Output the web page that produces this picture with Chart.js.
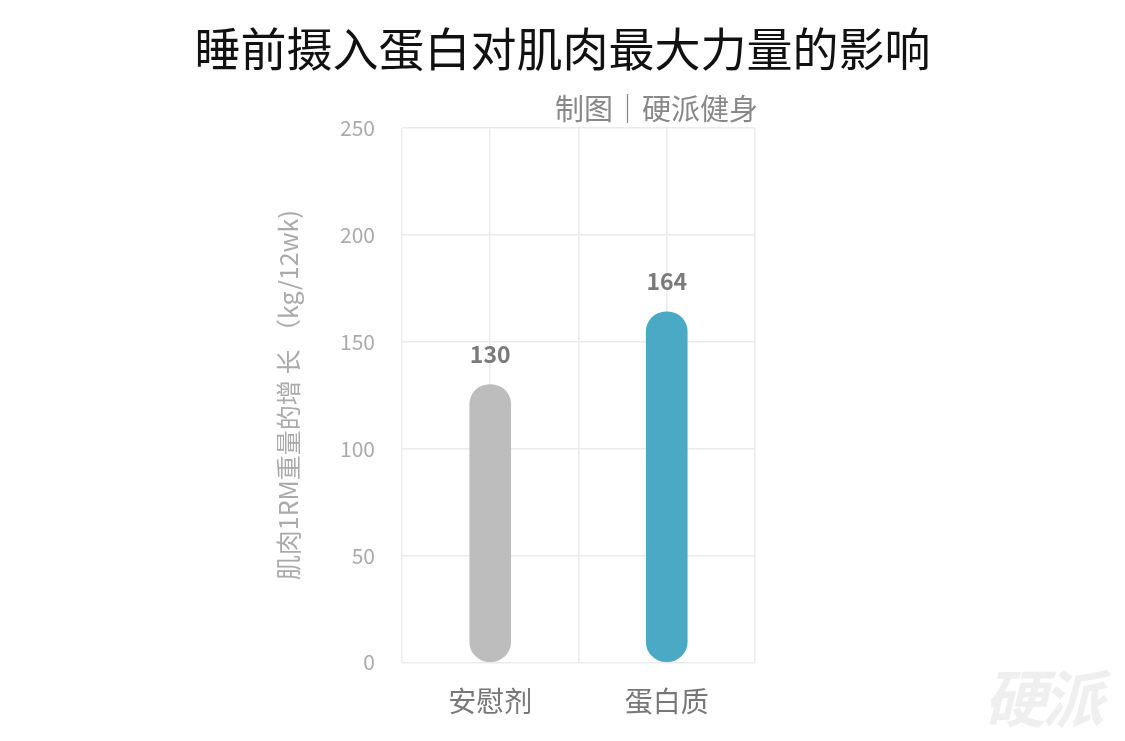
<!DOCTYPE html>
<html>
<head>
<meta charset="utf-8">
<script src="https://cdn.jsdelivr.net/npm/chart.js@4"></script>
<style>
  body { margin: 0; background: #fff; font-family: "Noto Sans CJK SC", "Noto Sans", sans-serif; }
  #wrap { position: relative; width: 1125px; height: 741px; }
  #title { position: absolute; left: 0; width: 1125px; top: 13px; text-align: center; font-size: 46px; color: #111; }
  #credit { position: absolute; right: 367px; top: 86px; font-size: 29px; color: #888; }
  #mark { position: absolute; left: 984px; top: 650px; font-size: 62px; font-weight: bold; font-style: italic; color: #efefef; letter-spacing: -4px; }
  canvas { position: absolute; left: 0; top: 0; }
</style>
</head>
<body>
<div id="wrap">
  <canvas id="c" width="1125" height="741"></canvas>
  <div id="title">睡前摄入蛋白对肌肉最大力量的影响</div>
  <div id="credit">制图｜硬派健身</div>
  <div id="mark">硬派</div>
</div>
<script>
const categories = ["安慰剂", "蛋白质"];
const gains = [130, 164];
const barColors = ["#bdbdbd", "#4aa9c5"];
const yTitle = "肌肉1RM重量的增 长 （kg/12wk)";

// 柱顶数值
const valueLabels = {
  id: "valueLabels",
  afterDatasetsDraw(chart) {
    const ctx = chart.ctx;
    const meta = chart.getDatasetMeta(0);
    ctx.save();
    ctx.font = "bold 23px 'Noto Sans CJK SC'";
    ctx.fillStyle = "#7a7a7a";
    ctx.textAlign = "center";
    ctx.textBaseline = "bottom";
    meta.data.forEach((bar, i) => {
      ctx.fillText(String(gains[i]), bar.x, bar.y - 19);
    });
    ctx.restore();
  },
};

new Chart(document.getElementById("c"), {
  type: "bar",
  data: {
    labels: categories,
    datasets: [
      {
        data: gains,
        backgroundColor: barColors,
        barThickness: 41,
        borderRadius: 20,
        borderSkipped: false,
      },
    ],
  },
  options: {
    responsive: false,
    animation: false,
    layout: { padding: { left: 269, right: 370, top: 128, bottom: 9 } },
    plugins: { legend: { display: false }, tooltip: { enabled: false } },
    scales: {
      x: {
        grid: { display: false },
        border: { display: false },
        ticks: { color: "#777", font: { size: 28, family: "Noto Sans CJK SC" }, padding: 14 },
      },
      x2: {
        type: "linear",
        position: "bottom",
        min: 0,
        max: 4,
        offset: false,
        display: true,
        ticks: { display: false, stepSize: 1 },
        grid: { color: "#ebebeb", lineWidth: 1.5, drawTicks: false, offset: false },
        border: { display: false },
      },
      y: {
        min: 0,
        max: 250,
        ticks: { stepSize: 50, color: "#aaa", font: { size: 21, family: "Noto Sans CJK SC" }, padding: 27 },
        grid: { color: "#ebebeb", lineWidth: 1.5, drawTicks: false },
        border: { display: false },
        title: { display: true, text: yTitle, color: "#aaa", font: { size: 25, family: "Noto Sans CJK SC" }, padding: { bottom: 10 } },
      },
    },
  },
  plugins: [valueLabels],
});
</script>
</body>
</html>
